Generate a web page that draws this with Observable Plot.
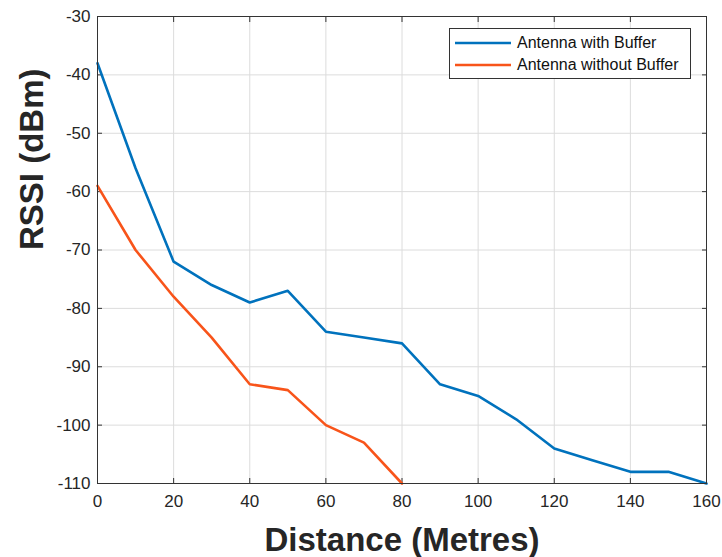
<!DOCTYPE html>
<html><head><meta charset="utf-8">
<script src="https://cdn.jsdelivr.net/npm/d3@7"></script>
<script src="https://cdn.jsdelivr.net/npm/@observablehq/plot@0.6"></script>
<style>
body{margin:0;background:#fff;}
#chart{position:relative;width:722px;height:557px;font-family:"Liberation Sans",Arial,sans-serif;}
#legend{position:absolute;left:449px;top:28px;width:240px;height:49px;border:1px solid #333;background:#fff;font-size:16px;color:#111;}
.row{position:absolute;left:0;height:20px;display:flex;align-items:center;}
.row svg{margin-left:5px;margin-right:6px;}
</style>
</head><body><div id="chart"></div>
<script>
const distance = [0,10,20,30,40,50,60,70,80,90,100,110,120,130,140,150,160];
const rssiWithBuffer = [-38,-56,-72,-76,-79,-77,-84,-85,-86,-93,-95,-99,-104,-106,-108,-108,-110];
const distanceNoBuffer = [0,10,20,30,40,50,60,70,80];
const rssiWithoutBuffer = [-59,-70,-78,-85,-93,-94,-100,-103,-110];
const xTicks = [0,20,40,60,80,100,120,140,160];
const yTicks = [-110,-100,-90,-80,-70,-60,-50,-40,-30];
const seriesNames = ["Antenna with Buffer","Antenna without Buffer"];
const seriesColors = ["#0072BD","#F8541A"];
const xTitle = "Distance (Metres)";
const yTitle = "RSSI (dBm)";

const withData = distance.map((d,i)=>({x:d,y:rssiWithBuffer[i]}));
const withoutData = distanceNoBuffer.map((d,i)=>({x:d,y:rssiWithoutBuffer[i]}));

const axisCommon = {tickSize:-5, fontSize:17, stroke:"#333", color:"#262626"};
const fmt = d => String(d);
const chart = Plot.plot({
  width:722, height:557,
  marginLeft:97, marginRight:16, marginTop:16, marginBottom:74,
  style:{fontFamily:'"Liberation Sans",Arial,sans-serif', color:"#262626", background:"#fff"},
  x:{domain:[0,160]},
  y:{domain:[-110,-30]},
  marks:[
    Plot.gridX(xTicks,{stroke:"#dcdcdc", strokeOpacity:1}),
    Plot.gridY(yTicks,{stroke:"#dcdcdc", strokeOpacity:1}),
    Plot.axisX(xTicks,{...axisCommon, anchor:"bottom", tickPadding:16, tickFormat:fmt, label:null}),
    Plot.axisX(xTicks,{...axisCommon, anchor:"top", tickFormat:()=>"", label:null}),
    Plot.axisY(yTicks,{...axisCommon, anchor:"left", tickPadding:12, tickFormat:fmt, label:null}),
    Plot.axisY(yTicks,{...axisCommon, anchor:"right", tickFormat:()=>"", label:null}),
    Plot.line(withData,{x:"x",y:"y",stroke:seriesColors[0],strokeWidth:2.6}),
    Plot.line(withoutData,{x:"x",y:"y",stroke:seriesColors[1],strokeWidth:2.6}),
    Plot.frame({stroke:"#333", strokeWidth:1}),
    Plot.text([xTitle],{frameAnchor:"bottom", dy:57, fontSize:33, fontWeight:"bold", fill:"#262626", lineAnchor:"middle"}),
    Plot.text([yTitle],{frameAnchor:"left", dx:-65, rotate:-90, fontSize:33, fontWeight:"bold", fill:"#262626", lineAnchor:"middle"})
  ]
});
const host = document.getElementById("chart");
host.appendChild(chart);
const legend = document.createElement("div");
legend.id = "legend";
seriesNames.forEach((name,i)=>{
  const row = document.createElement("div");
  row.className = "row";
  row.style.top = (4 + i*22) + "px";
  row.innerHTML = `<svg width="56" height="6"><line x1="0" x2="56" y1="3" y2="3" stroke="${seriesColors[i]}" stroke-width="2.6"/></svg><span>${name}</span>`;
  legend.appendChild(row);
});
host.appendChild(legend);
</script>
</body></html>
